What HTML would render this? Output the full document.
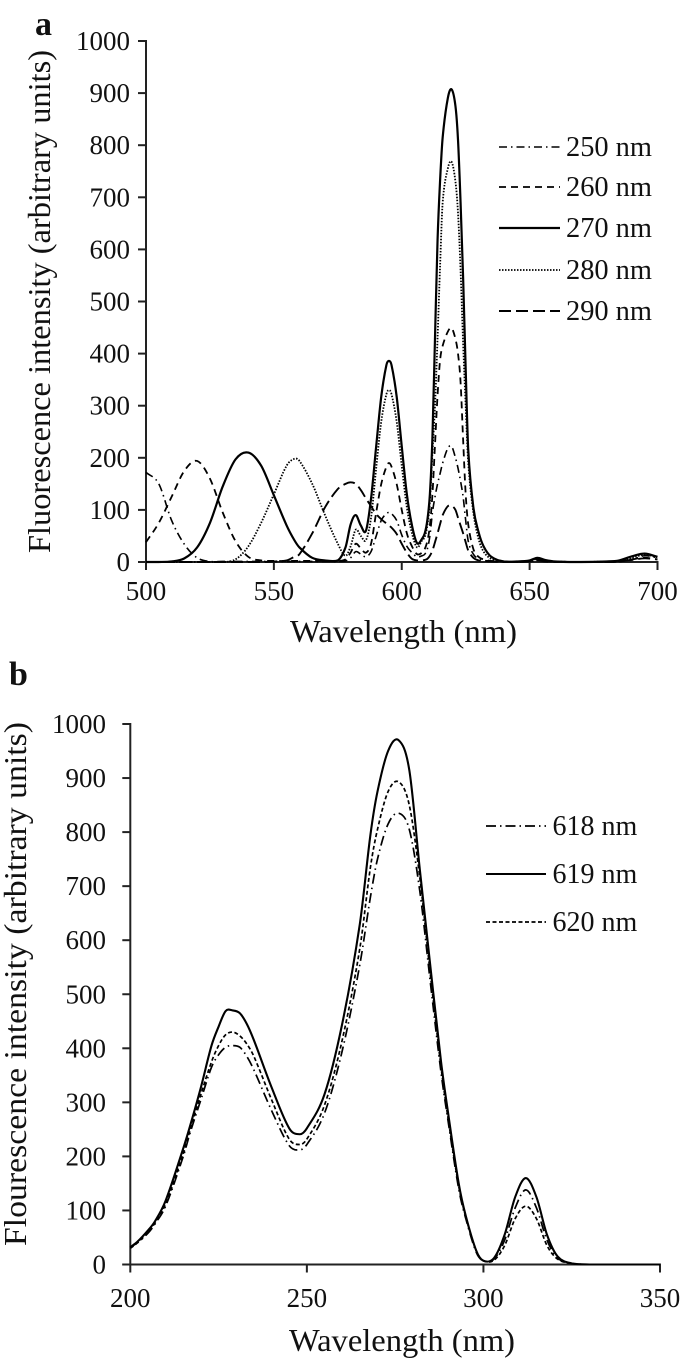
<!DOCTYPE html>
<html lang="en">
<head>
<meta charset="utf-8">
<title>Fluorescence spectra</title>
<style>
html,body{margin:0;padding:0;background:#fff}
svg{display:block}
text{font-family:"Liberation Serif",serif;fill:#111}
</style>
</head>
<body>
<svg id="fig" width="685" height="1360" viewBox="0 0 685 1360" xmlns="http://www.w3.org/2000/svg"></svg>
<script>
// Panel a data
const gridA = [500,505,510,515,520,525,530,535,540,545,550,555,558,560,
  565,570,575,578,580,582,584,586,588,590,
  592,594,595,596,598,600,602,604,606,
  608,609,610,611,612,613,614,615,616,618,619.5,621,622,623,624,625,626,628,
  630,632,635,640,645,650,653,656,660,
  670,680,685,690,695,700];
const ex250 = [172,150,80,34,8,1,1,1,1,1,1,1,1,1,
  1,1,1,2,8,20,15,10,20,50,
  80,93,95,93,80,52,30,18,10,
  12,15,25,50,95,125,150,170,190,218,222,200,180,155,125,80,40,15,
  6,3,2,0,0,1,3,2,0,
  0,0,1,5,12,8];
const ex260 = [38,75,125,175,194,160,95,40,10,3,2,2,2,2,
  2,2,2,5,18,35,26,18,35,95,
  150,183,190,183,150,100,55,30,15,
  18,25,40,70,130,225,320,388,415,442,449,428,400,345,234,130,72,25,
  10,5,2,1,0,2,5,2,1,
  0,0,1,5,8,5];
const ex270 = [0,0,1,7,28,75,145,197,210,185,128,70,42,28,
  8,3,3,28,72,90,70,60,122,222,
  318,378,386,378,318,222,130,70,36,
  45,55,80,130,240,430,618,733,815,890,907,875,810,690,545,370,215,105,
  58,30,10,1,1,3,8,4,1,
  0,1,3,11,16,10];
const ex280 = [0,0,0,0,0,0,0,5,30,75,130,185,198,194,
  150,90,35,12,30,62,50,42,85,180,
  270,322,330,322,270,185,105,55,28,
  42,48,70,115,210,300,430,570,690,755,768,730,670,560,420,300,190,95,
  45,20,6,1,0,2,6,3,1,
  0,1,2,8,14,9];
const ex290 = [0,0,0,0,0,0,0,0,0,0,1,3,10,15,
  55,105,140,150,153,150,138,122,107,92,
  82,74,70,66,54,35,18,6,3,
  3,4,6,12,22,38,55,73,90,107,108,100,85,70,55,38,22,8,
  3,2,1,0,0,1,3,1,0,
  0,0,1,4,7,5];
const xTicksA = [500,550,600,650,700];
const yTicks = [0,100,200,300,400,500,600,700,800,900,1000];
const legendLabelsA = ["250 nm","260 nm","270 nm","280 nm","290 nm"];

// Panel b data
const gridB = [200,202,205,207,210,215,217,220,223,225,227,229,231,233,235,240,245,248,250,255,
  260,265,268,270,273,276,279,282,285,288,290,293,295,298,300,303,306,309,312,315,318,321,325,330,340,350];
const em618 = [32,40,58,75,108,200,245,305,365,388,402,405,402,385,360,285,220,212,222,280,
  395,555,680,750,815,835,805,690,520,355,265,140,85,22,7,10,45,105,138,105,45,12,2,0,0,0];
const em619 = [32,42,63,80,118,215,258,328,405,440,469,470,465,445,415,328,252,241,252,315,
  445,630,795,875,950,970,915,730,550,375,280,150,90,25,7,12,55,125,160,125,55,15,2,0,0,0];
const em620 = [30,40,60,77,112,205,250,315,375,405,425,430,423,408,385,305,232,222,232,295,
  415,585,735,805,875,893,850,715,535,365,270,145,88,25,7,8,35,85,108,85,35,10,2,0,0,0];
const xTicksB = [200,250,300,350];
const legendLabelsB = ["618 nm","619 nm","620 nm"];

const NS = "http://www.w3.org/2000/svg";
const svg = document.getElementById("fig");

function make(tag, attrs, parent) {
  const el = document.createElementNS(NS, tag);
  for (const k in attrs) el.setAttribute(k, attrs[k]);
  (parent || svg).appendChild(el);
  return el;
}
function linear(d0, d1, r0, r1) {
  return v => r0 + (v - d0) * (r1 - r0) / (d1 - d0);
}
function smoothPath(xs, ys, sx, sy) {
  const px = xs.map(sx), py = ys.map(sy);
  let d = "M" + px[0].toFixed(2) + " " + py[0].toFixed(2);
  for (let i = 0; i < px.length - 1; i++) {
    const a = Math.max(i - 1, 0), b = Math.min(i + 2, px.length - 1);
    const m0 = (py[i + 1] - py[a]) / (px[i + 1] - px[a]);
    const m1 = (py[b] - py[i]) / (px[b] - px[i]);
    const h = (px[i + 1] - px[i]) / 3;
    d += "C" + (px[i] + h).toFixed(2) + " " + Math.min(py[i] + m0 * h, sy(0)).toFixed(2) + " " +
      (px[i + 1] - h).toFixed(2) + " " + Math.min(py[i + 1] - m1 * h, sy(0)).toFixed(2) + " " +
      px[i + 1].toFixed(2) + " " + py[i + 1].toFixed(2);
  }
  return d;
}

function drawPanel(cfg) {
  const sx = linear(cfg.xDomain[0], cfg.xDomain[1], cfg.x0, cfg.x1);
  const sy = linear(0, 1000, cfg.y0, cfg.y1);
  const g = make("g", {});
  
  

  const axisStyle = {stroke: "#222", "stroke-width": 2, fill: "none"};

  const yAxis = make("line", Object.assign({x1: cfg.x0, x2: cfg.x0, y1: cfg.y1 - 1, y2: cfg.y0 + 1}, axisStyle), g);
  
  
  const xAxis = make("line", Object.assign({x1: cfg.x0 - 8, x2: cfg.x1 + 1, y1: cfg.y0, y2: cfg.y0}, axisStyle), g);
  
  

  yTicks.forEach(t => {
    const tick = make("line", Object.assign({x1: cfg.x0 - 8, x2: cfg.x0, y1: sy(t), y2: sy(t)}, axisStyle), g);
    
    
    const lab = make("text", {x: cfg.yLabelX, y: sy(t) + cfg.yLabelDy, "text-anchor": "end", "font-size": 27}, g);
    lab.textContent = t;
    
    
  });
  cfg.xTicks.forEach(t => {
    const tick = make("line", Object.assign({x1: sx(t), x2: sx(t), y1: cfg.y0, y2: cfg.y0 + 8}, axisStyle), g);
    
    
    const lab = make("text", {x: sx(t), y: cfg.xLabelY, "text-anchor": "middle", "font-size": 27}, g);
    lab.textContent = t;
    
    
  });

  cfg.series.forEach(s => {
    const p = make("path", {d: smoothPath(cfg.grid, s.values, sx, sy), fill: "none", stroke: "#000",
      "stroke-width": s.width, "stroke-dasharray": s.dash, "stroke-linejoin": "round"}, g);
    
    
  });

  cfg.series.forEach((s, i) => {
    const ly = cfg.legendY[i];
    const ln = make("line", {x1: cfg.legendX0, x2: cfg.legendX1, y1: ly, y2: ly, stroke: "#000",
      "stroke-width": s.width, "stroke-dasharray": s.dash}, g);
    
    
    const lt = make("text", {x: cfg.legendTextX, y: ly + cfg.legendDy, "font-size": cfg.legendSize}, g);
    lt.textContent = cfg.legendLabels[i];
    
    
  });

  const xt = make("text", {x: cfg.xTitleX, y: cfg.xTitleY, "font-size": 32, textLength: cfg.xTitleLen, lengthAdjust: "spacingAndGlyphs"}, g);
  xt.textContent = "Wavelength (nm)";
  
  

  const yt = make("text", {transform: "translate(" + cfg.yTitleX + " " + cfg.yTitleStart + ") rotate(-90)",
    "font-size": 32, textLength: cfg.yTitleLen, lengthAdjust: "spacingAndGlyphs"}, g);
  yt.textContent = cfg.yTitle;
  
  

  const pl = make("text", {x: cfg.letterX, y: cfg.letterY, "font-size": 34, "font-weight": "bold"}, g);
  pl.textContent = cfg.letter;
  
  
}

drawPanel({
  name: "panel-a-chart", letter: "a", letterX: 35, letterY: 35,
  xDomain: [500, 700], x0: 146, x1: 657.5, y0: 562, y1: 41,
  grid: gridA, xTicks: xTicksA,
  yLabelX: 130, yLabelDy: 9, xLabelY: 600,
  series: [
    {id: "250nm", values: ex250, width: 1.6, dash: "8 4 1.5 4"},
    {id: "260nm", values: ex260, width: 1.8, dash: "7 5"},
    {id: "270nm", values: ex270, width: 2.2, dash: "none"},
    {id: "280nm", values: ex280, width: 1.8, dash: "1.5 1.5"},
    {id: "290nm", values: ex290, width: 1.9, dash: "12 5"}
  ],
  legendLabels: legendLabelsA, legendY: [147, 187, 228, 270, 311], legendSize: 28.4,
  legendX0: 499, legendX1: 560, legendTextX: 566, legendDy: 9,
  xTitleX: 290, xTitleY: 642, xTitleLen: 227,
  yTitle: "Fluorescence intensity (arbitrary units)", yTitleX: 50, yTitleStart: 553, yTitleLen: 503
});

drawPanel({
  name: "panel-b-chart", letter: "b", letterX: 9, letterY: 685,
  xDomain: [200, 350], x0: 130.3, x1: 660, y0: 1264.5, y1: 724,
  grid: gridB, xTicks: xTicksB,
  yLabelX: 106, yLabelDy: 9, xLabelY: 1307,
  series: [
    {id: "618nm", values: em618, width: 1.7, dash: "10 4 1.5 4"},
    {id: "619nm", values: em619, width: 2.1, dash: "none"},
    {id: "620nm", values: em620, width: 1.7, dash: "4 2.5"}
  ],
  legendLabels: legendLabelsB, legendY: [826, 874, 922], legendSize: 28,
  legendX0: 486, legendX1: 546, legendTextX: 552.5, legendDy: 9,
  xTitleX: 289, xTitleY: 1351, xTitleLen: 226,
  yTitle: "Flourescence intensity (arbitrary units)", yTitleX: 26, yTitleStart: 1246, yTitleLen: 524
});
</script>
</body>
</html>
